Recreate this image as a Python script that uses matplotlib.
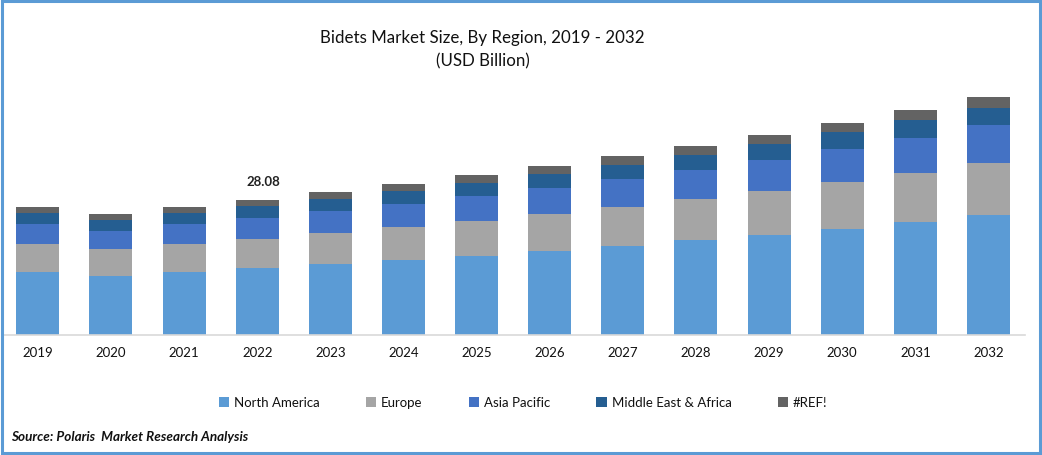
import matplotlib; matplotlib.use("Agg"); import matplotlib.pyplot as plt
from matplotlib.patches import Rectangle
import numpy as np

plt.rcParams["font.family"] = ["Lato", "DejaVu Sans"]

years = [str(y) for y in range(2019, 2033)]
north_america = [13.1, 12.3, 13.1, 13.9, 14.8, 15.6, 16.4, 17.5, 18.5, 19.8, 20.8, 22.0, 23.5, 25.0]
europe = [5.8, 5.6, 5.8, 6.0, 6.4, 6.9, 7.3, 7.7, 8.1, 8.5, 9.2, 9.8, 10.2, 10.8]
asia_pacific = [4.2, 3.7, 4.2, 4.4, 4.6, 4.8, 5.2, 5.4, 5.8, 6.0, 6.4, 6.9, 7.3, 7.9]
mea = [2.3, 2.3, 2.3, 2.5, 2.5, 2.7, 2.7, 2.9, 2.9, 3.1, 3.3, 3.5, 3.7, 3.5]
ref = [1.25, 1.25, 1.25, 1.25, 1.45, 1.45, 1.7, 1.7, 1.9, 1.9, 1.9, 1.9, 2.1, 2.3]
series = [("North America", north_america, "#5b9bd5"), ("Europe", europe, "#a5a5a5"),
          ("Asia Pacific", asia_pacific, "#4472c4"), ("Middle East & Africa", mea, "#255e91"),
          ("#REF!", ref, "#636363")]
label_year, label_text = "2022", "28.08"

W, H = 1042, 456
fig = plt.figure(figsize=(W/100, H/100), dpi=100)
ax = fig.add_axes([2/W, 1-336/H, 1023/W, 245/H])

x = np.arange(len(years))
bottom = np.zeros(len(years))
for name, vals, col in series:
    ax.bar(x, vals, 0.588, bottom=bottom, color=col, label=name)
    bottom += np.array(vals)

ax.set_xlim(-0.49, 13.5)
ax.set_ylim(0, 51)
ax.set_yticks([])
for s in ["top", "left", "right"]:
    ax.spines[s].set_visible(False)
ax.spines["bottom"].set_color("#d9d9d9")
ax.spines["bottom"].set_linewidth(1.2)
ax.set_xticks(x)
ax.set_xticklabels(years, fontsize=9.5, color="#111111")
ax.tick_params(axis="x", length=0, pad=8)

i = years.index(label_year)
ax.text(i + 0.09, bottom[i] + 2.75, label_text, ha="center", va="bottom", fontsize=9.5,
        fontweight="bold", color="#222222")

fig.text(482.5/W, 1-38.5/H, "Bidets Market Size, By Region, 2019 - 2032", ha="center", va="center",
         fontsize=12.2, color="#111111")
fig.text(482.5/W, 1-61/H, "(USD Billion)", ha="center", va="center", fontsize=12.2, color="#111111")

fig.legend(loc="center", bbox_to_anchor=(523/W, 1-403.5/H), ncol=5, frameon=False, fontsize=9.5,
           handlelength=0.8, handleheight=0.8, handletextpad=0.35, columnspacing=3.5,
           labelcolor="#111111")
fig.text(11/W, 1-437/H, "Source: Polaris  Market Research Analysis", ha="left", va="center",
         fontsize=9.7, fontweight="bold", fontstyle="italic", color="#111111")

# outer frame
fig.add_artist(Rectangle((1.5/W, 2/H), (W-3.5)/W, (H-3.5)/H, transform=fig.transFigure,
                         fill=False, edgecolor="#5b9bd5", linewidth=2.2))
fig.savefig("out.png", dpi=100)
